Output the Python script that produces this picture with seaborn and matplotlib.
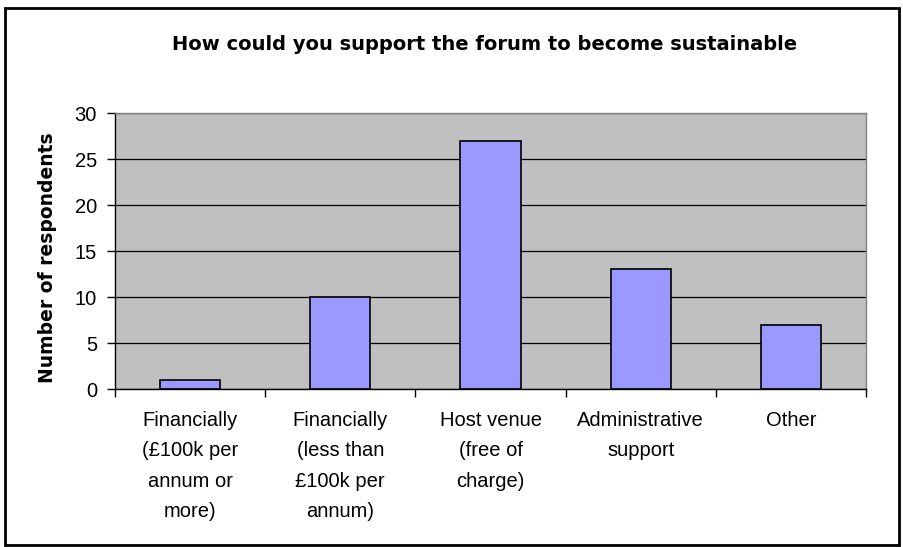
import matplotlib
matplotlib.use("Agg")
import matplotlib.pyplot as plt
from matplotlib.patches import Rectangle
import seaborn as sns
import pandas as pd

categories = [
    "Financially\n(£100k per\nannum or\nmore)",
    "Financially\n(less than\n£100k per\nannum)",
    "Host venue\n(free of\ncharge)",
    "Administrative\nsupport",
    "Other",
]
respondents = [1, 10, 27, 13, 7]
y_ticks = [0, 5, 10, 15, 20, 25, 30]

sns.set_theme(style="white")
plt.rcParams["font.family"] = ["Liberation Sans", "DejaVu Sans"]
plt.rcParams.update({"text.color": "black", "axes.labelcolor": "black",
                     "xtick.color": "black", "ytick.color": "black"})

df = pd.DataFrame({"category": categories, "respondents": respondents})

fig = plt.figure(figsize=(9.04, 5.47), dpi=100)
ax = fig.add_axes([0.1272, 0.2888, 0.8308, 0.5046])

sns.barplot(data=df, x="category", y="respondents", ax=ax,
            color="#9999FF", edgecolor="black", linewidth=1.2,
            width=0.4, saturation=1)

ax.set_facecolor("#C0C0C0")
ax.set_xlim(-0.5, len(categories) - 0.5)
ax.set_ylim(0, 30)
ax.set_yticks(y_ticks)
ax.yaxis.grid(True, color="black", linewidth=0.9)
ax.set_axisbelow(True)

for side in ["top", "right"]:
    ax.spines[side].set_color("#808080")
    ax.spines[side].set_linewidth(1.0)
for side in ["left", "bottom"]:
    ax.spines[side].set_color("black")
    ax.spines[side].set_linewidth(1.0)

# Category labels centred under bars; tick marks at category boundaries
ax.set_xticks(range(len(categories)))
ax.set_xticklabels(categories, fontsize=14.5, linespacing=1.75,
                   va="top", ha="center")
ax.tick_params(axis="x", which="major", length=0, pad=16)
ax.set_xticks([i - 0.5 for i in range(len(categories) + 1)], minor=True)
ax.tick_params(axis="x", which="minor", length=6, width=1, color="black",
               direction="out", bottom=True)
ax.tick_params(axis="y", length=6, width=1, color="black", direction="out",
               left=True, labelsize=14.5, pad=7)

ax.set_xlabel("")
ax.set_ylabel("")
fig.text(48 / 904, 1 - 258 / 547, "Number of respondents", rotation=90,
         ha="center", va="center", fontsize=13.5, fontweight="bold",
         family=["DejaVu Sans"])

fig.text(485 / 904, 1 - 50 / 547,
         "How could you support the forum to become sustainable",
         ha="center", va="baseline", fontsize=14, fontweight="bold",
         family=["DejaVu Sans"])

# Chart-area frame
fig.patches.append(Rectangle((0.005, 0.004), 0.99, 0.982,
                             transform=fig.transFigure, fill=False,
                             edgecolor="black", linewidth=2))

fig.savefig("out.png", dpi=100, facecolor="white")
